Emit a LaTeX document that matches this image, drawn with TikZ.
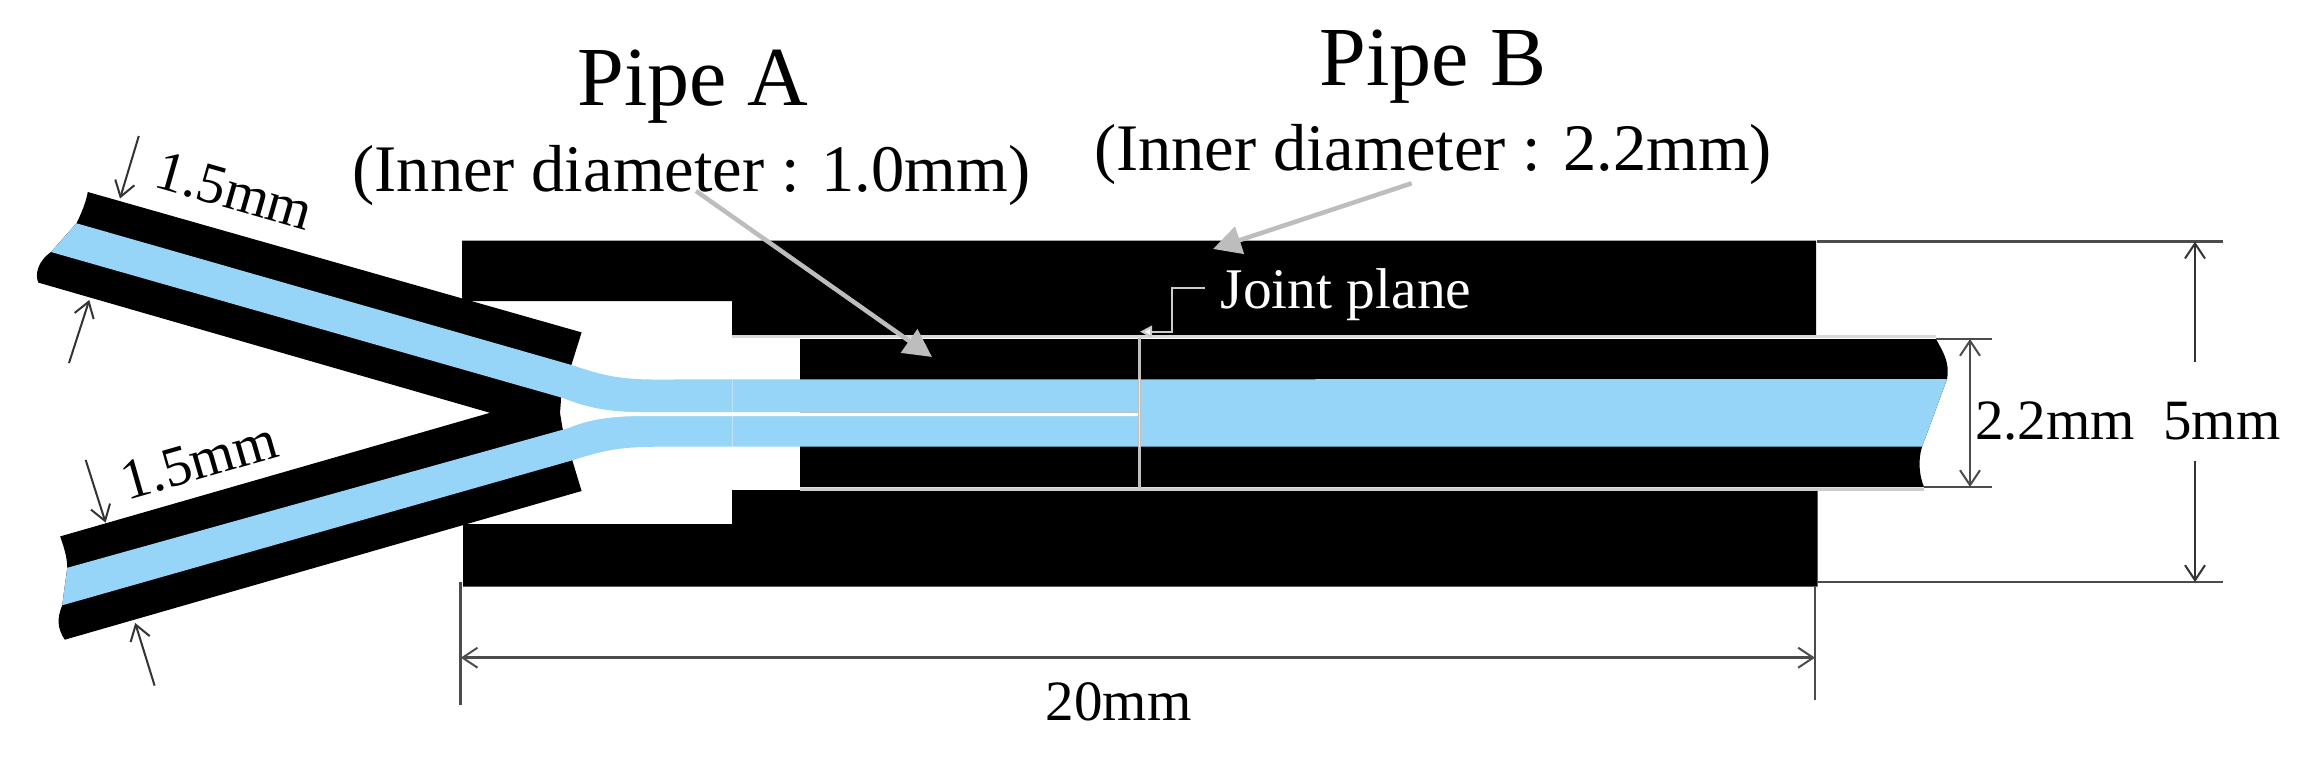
\documentclass[tikz,border=0pt]{standalone}
\usepackage{fontspec}
\setmainfont{Liberation Serif}
\usetikzlibrary{arrows.meta}
\definecolor{flow}{HTML}{96D5F8}
\definecolor{leader}{HTML}{BDBDBD}
\tikzset{
  x=1pt,y=-1pt,
  solid black/.style={fill=black,draw=none},
  flow fill/.style={fill=flow,draw=none},
  dimline/.style={draw=black!80,line width=2pt,-{Straight Barb[length=15pt,width=20pt,line width=2pt]}},
  dimboth/.style={draw=black!70,line width=2.5pt,{Straight Barb[length=15pt,width=20pt,line width=2pt]}-{Straight Barb[length=15pt,width=20pt,line width=2pt]}},
  extline/.style={draw=black!70,line width=2.5pt},
  graypoint/.style={draw=leader,line width=4.5pt,-{Triangle[length=28pt,width=28pt,fill=leader]}},
  jointleader/.style={draw=white!80!black,line width=2pt,-{Triangle[length=12pt,width=12pt,fill=white]}},
  lbl/.style={inner sep=0pt,anchor=base,font=\fontsize{57}{60}\selectfont},
  lblbig/.style={inner sep=0pt,anchor=base,font=\fontsize{66.5}{70}\selectfont},
  title/.style={inner sep=0pt,anchor=base,font=\fontsize{84}{90}\selectfont},
}
\begin{document}
\begin{tikzpicture}
\useasboundingbox (0,0) rectangle (2313,760);
\fill[white] (0,0) rectangle (2313,760);
% block
\path[solid black] (462,240.5) -- (1816,240.5) -- (1816,335) -- (732,335) -- (732,301) -- (462,301) -- cycle;
\path[solid black] (463,524) -- (732,524) -- (732,490) -- (1817.5,490) -- (1817.5,586.5) -- (463,586.5) -- cycle;
% inner tube
\path[solid black] (800,339) -- (1936,339) .. controls (1943,352) and (1950,362) .. (1947,379)
  -- (1922,446.7) .. controls (1918,460) and (1919,475) .. (1924,487) -- (800,487) -- cycle;
% inlet tubes
\path[solid black] (87.8,192) -- (581.6,332.4) -- (561.2,397.5) -- (560,413) -- (562.5,428) -- (581.6,491)
  -- (64.8,639.7) .. controls (57,628) and (57,618) .. (62.2,605.3) -- (67.3,567.8)
  .. controls (67,555) and (63,545) .. (60.2,536.4) -- (490,412.8) -- (38.3,282.6)
  .. controls (35,275) and (37,262) .. (51,252) -- (76.5,223.3) .. controls (82,212) and (86,202) .. cycle;
% flow
\path[flow fill] (76.5,223.3) -- (571.4,365) .. controls (605,376) and (620,380) .. (665,379.5)
  -- (1947,379) -- (1922,446.7) -- (665,446.7) .. controls (620,446.5) and (605,450) .. (571.4,460.6)
  -- (62.2,605.3) -- (67.3,567.8) -- (565.3,429) .. controls (590,419) and (610,415.5) .. (647,415.5)
  -- (1139,415.5) -- (1139,412.3) -- (647,412.3) .. controls (610,412.3) and (590,409) .. (561.2,397.5)
  -- (51,252) -- cycle;
% thin white gap between the two streams
\path[fill=white] (561.2,397.5) .. controls (590,409) and (610,412.3) .. (647,412.3) -- (1138,412.3)
  -- (1138,416) -- (647,416) .. controls (610,416) and (590,419) .. (565.3,429) -- (561,413) -- cycle;
% white joint lines
\draw[white!85!black,line width=3.5pt] (732,336.7) -- (1936,336.7);
\draw[white!80!black,line width=3pt] (800,489) -- (1924,489);
\draw[white!75!black,line width=2.5pt] (1139.7,338) -- (1139.7,488);
\draw[white,line width=1.5pt,opacity=.7] (1139.7,379) -- (1139.7,446.7);
\draw[white,line width=1pt,opacity=.4] (732,379.5) -- (732,446.7);
% named anchors for connectors
\coordinate (a1s) at (138.8,136); \coordinate (a1e) at (120,198.5);
\coordinate (a2s) at (69,363);    \coordinate (a2e) at (89.3,300);
\coordinate (a3s) at (85.7,460);  \coordinate (a3e) at (105.6,522.6);
\coordinate (a4s) at (154.6,685.6); \coordinate (a4e) at (135.2,623);
\coordinate (dl) at (460.7,657.7); \coordinate (dr) at (1815,657.7);
\draw[dimline] (a1s) -- (a1e);
\draw[dimline] (a2s) -- (a2e);
\draw[dimline] (a3s) -- (a3e);
\draw[dimline] (a4s) -- (a4e);
\coordinate (e1a) at (460.7,582); \coordinate (e1b) at (460.7,705);
\coordinate (e2a) at (1815,587);  \coordinate (e2b) at (1815,700);
\draw[extline] (e1a) -- (e1b);
\draw[extline] (e2a) -- (e2b);
\draw[dimboth] (dl) -- (dr);
\coordinate (t5a) at (1817,241.7); \coordinate (t5b) at (2223,241.7);
\coordinate (b5a) at (1817,582);   \coordinate (b5b) at (2223,582);
\draw[extline] (t5a) -- (t5b);
\draw[extline] (b5a) -- (b5b);
\coordinate (t2a) at (1936,339); \coordinate (t2b) at (1992,339);
\coordinate (b2a) at (1924,487); \coordinate (b2b) at (1992,487);
\draw[extline] (t2a) -- (t2b);
\draw[extline] (b2a) -- (b2b);
\coordinate (d22a) at (1970,339); \coordinate (d22b) at (1970,487);
\draw[dimboth] (d22a) -- (d22b);
\coordinate (d5a) at (2195,361.7); \coordinate (d5at) at (2195,241.7);
\coordinate (d5b) at (2195,460.7); \coordinate (d5bt) at (2195,582);
\draw[dimline] (d5a) -- (d5at);
\draw[dimline] (d5b) -- (d5bt);
% labels
\node[title] (pa) at (693,105) {Pipe A};
\node[lblbig] (pai) at (691.5,191) {(Inner diameter : 1.0mm)};
\node[title] (pb) at (1433,85) {Pipe B};
\node[lblbig] (pbi) at (1433,170) {(Inner diameter : 2.2mm)};
\node[lbl,text=white,font=\fontsize{57.5}{60}\selectfont] (jp) at (1346,308) {Joint plane};
\node[lbl] (w20) at (1118.5,720) {20mm};
\node[lbl] (w22) at (2055,439) {2.2mm};
\node[lbl] (w5) at (2222,439) {5mm};
\node[lbl,rotate=-16] (u15) at (229.5,209) {1.5mm};
\node[lbl,rotate=16] (l15) at (204,478) {1.5mm};
% gray pointers
\coordinate (pas) at (696,191); \coordinate (pae) at (932,357);
\draw[graypoint] (pas) -- (pae);
\coordinate (pbs) at (1411.7,183.3); \coordinate (pbe) at (1213,249);
\draw[graypoint] (pbs) -- (pbe);
% joint plane leader
\coordinate (jl) at (1205,288); \coordinate (jt) at (1140,331.7);
\draw[jointleader] (jl) -- (1171.7,288) -- (1171.7,331.7) -- (jt);
\end{tikzpicture}
\end{document}
